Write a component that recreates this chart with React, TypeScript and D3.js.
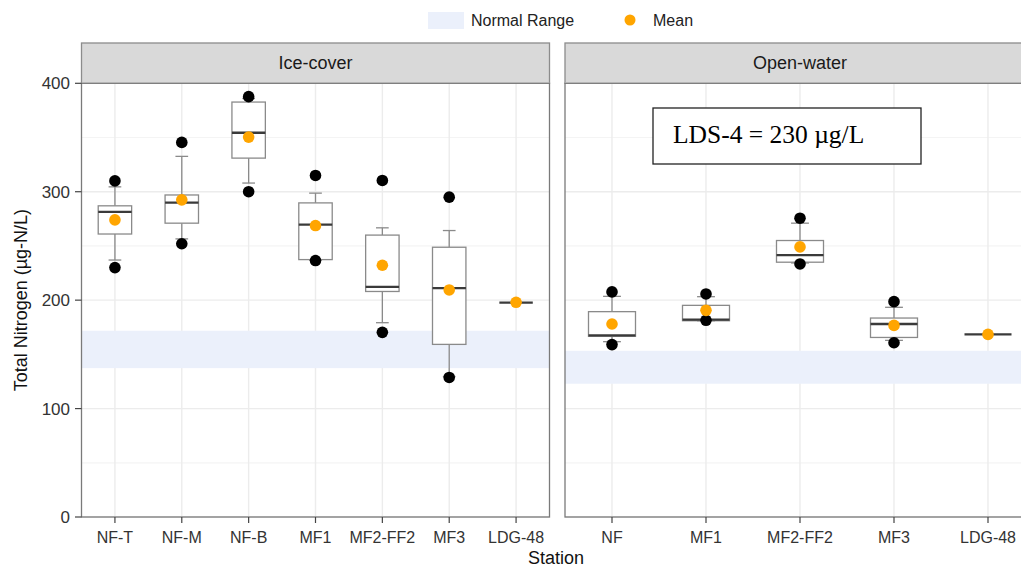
import React from "react";
import * as d3 from "d3";

const iceStations = ["NF-T", "NF-M", "NF-B", "MF1", "MF2-FF2", "MF3", "LDG-48"];
const iceLowWhisker = [237, 256.5, 308, 237, 179.2, 129.5, 197.7];
const iceQ1 = [261, 271, 331, 237.4, 208, 159.2, 197.7];
const iceMedian = [281.5, 290, 354.4, 269.7, 212.2, 211, 197.7];
const iceQ3 = [287, 297, 382.7, 289.7, 260, 248.8, 197.7];
const iceHighWhisker = [304.5, 332.6, 386, 298.7, 266.7, 264.2, 197.7];
const iceMin = [230, 252, 300, 236.5, 170.3, 128.7, null];
const iceMax = [310, 345.5, 387.7, 315, 310.4, 295, null];
const iceMean = [274, 292.5, 350.4, 268.8, 232.2, 209.4, 198];
const iceNormalRange = [137.3, 171.8];

const openStations = ["NF", "MF1", "MF2-FF2", "MF3", "LDG-48"];
const openLowWhisker = [161.7, 181, 234.3, 162.9, 168.4];
const openQ1 = [166.6, 181, 235, 165.6, 168.4];
const openMedian = [167.5, 182, 241.6, 178, 168.4];
const openQ3 = [189.4, 195.2, 255, 183.5, 168.4];
const openHighWhisker = [203.5, 203.2, 271, 193.4, 168.4];
const openMin = [159, 181.4, 233.4, 160.7, null];
const openMax = [207.6, 205.7, 275.6, 198.6, null];
const openMean = [178, 190.6, 249.1, 176.7, 168.4];
const openNormalRange = [122.9, 153.3];

const yTicks = [0, 100, 200, 300, 400];
const yMinor = [50, 150, 250, 350];
const panelTitles = ["Ice-cover", "Open-water"];
const lds4Label = "LDS-4 = 230 µg/L";

const W = 1021;
const H = 569;
const TOP = 83.3;
const BOTTOM = 517;
const STRIP_TOP = 43;
const FONT = "'Liberation Sans', Arial, Helvetica, sans-serif";
const BAND = "#ebf0fb";

type PanelProps = {
  stations: string[];
  lw: number[];
  q1: number[];
  med: number[];
  q3: number[];
  hw: number[];
  mn: (number | null)[];
  mx: (number | null)[];
  mean: number[];
  range: number[];
  x0: number;
  x1: number;
  title: string;
};

const y = d3.scaleLinear().domain([0, 400]).range([BOTTOM, TOP]);

function Panel(p: PanelProps) {
  const x = d3.scaleBand<string>().domain(p.stations).range([p.x0, p.x1]).paddingInner(0).paddingOuter(0);
  const step = x.step();
  const cx = (s: string) => (x(s) as number) + step / 2;
  const boxW = step * 0.5;
  const capW = step * 0.19;
  const whisk = "#8a8a8a";
  return (
    <g>
      <rect x={p.x0} y={STRIP_TOP} width={p.x1 - p.x0} height={TOP - STRIP_TOP} fill="#d9d9d9" stroke="#8c8c8c" strokeWidth={1.3} />
      <text x={(p.x0 + p.x1) / 2} y={(STRIP_TOP + TOP) / 2} dy="0.35em" textAnchor="middle" fontFamily={FONT} fontSize={18} fill="#1a1a1a">{p.title}</text>
      <rect x={p.x0} y={TOP} width={p.x1 - p.x0} height={BOTTOM - TOP} fill="#fff" />
      {yMinor.map((v) => (
        <line key={"mi" + v} x1={p.x0} x2={p.x1} y1={y(v)} y2={y(v)} stroke="#f4f4f4" strokeWidth={1.2} />
      ))}
      {yTicks.map((v) => (
        <line key={"ma" + v} x1={p.x0} x2={p.x1} y1={y(v)} y2={y(v)} stroke="#ececec" strokeWidth={1.4} />
      ))}
      {p.stations.map((s) => (
        <line key={"vg" + s} x1={cx(s)} x2={cx(s)} y1={TOP} y2={BOTTOM} stroke="#ececec" strokeWidth={1.4} />
      ))}
      <rect x={p.x0} y={y(p.range[1])} width={p.x1 - p.x0} height={y(p.range[0]) - y(p.range[1])} fill={BAND} />
      {p.stations.map((s, i) => {
        const c = cx(s);
        const single = p.q1[i] === p.q3[i];
        return (
          <g key={"b" + s}>
            {!single && (
              <g>
                <line x1={c} x2={c} y1={y(p.q3[i])} y2={y(p.hw[i])} stroke={whisk} strokeWidth={1.3} />
                <line x1={c} x2={c} y1={y(p.q1[i])} y2={y(p.lw[i])} stroke={whisk} strokeWidth={1.3} />
                <line x1={c - capW / 2} x2={c + capW / 2} y1={y(p.hw[i])} y2={y(p.hw[i])} stroke={whisk} strokeWidth={1.3} />
                <line x1={c - capW / 2} x2={c + capW / 2} y1={y(p.lw[i])} y2={y(p.lw[i])} stroke={whisk} strokeWidth={1.3} />
                <rect x={c - boxW / 2} y={y(p.q3[i])} width={boxW} height={y(p.q1[i]) - y(p.q3[i])} fill="#fff" stroke={whisk} strokeWidth={1.3} />
              </g>
            )}
            <line x1={c - boxW / 2} x2={c + boxW / 2} y1={y(p.med[i])} y2={y(p.med[i])} stroke="#3a3a3a" strokeWidth={2.3} />
            {p.mn[i] != null && <circle cx={c} cy={y(p.mn[i] as number)} r={5.8} fill="#000" />}
            {p.mx[i] != null && <circle cx={c} cy={y(p.mx[i] as number)} r={5.8} fill="#000" />}
            <circle cx={c} cy={y(p.mean[i])} r={5.8} fill="#FFA500" />
          </g>
        );
      })}
      <rect x={p.x0} y={TOP} width={p.x1 - p.x0} height={BOTTOM - TOP} fill="none" stroke="#7a7a7a" strokeWidth={1.3} />
      {p.stations.map((s) => (
        <g key={"t" + s}>
          <line x1={cx(s)} x2={cx(s)} y1={BOTTOM} y2={BOTTOM + 6} stroke="#444" strokeWidth={1.2} />
          <text x={cx(s)} y={BOTTOM + 26} textAnchor="middle" fontFamily={FONT} fontSize={16} fill="#333">{s}</text>
        </g>
      ))}
    </g>
  );
}

export default function App() {
  const leftX0 = 81.5;
  const leftX1 = 549.5;
  const rightX0 = 565;
  const rightX1 = 565 + 94 * openStations.length;
  return (
    <svg width={W} height={H} style={{ position: "absolute", left: 0, top: 0, background: "#fff" }}>
      <rect x={0} y={0} width={W} height={H} fill="#fff" />
      <rect x={428} y={12} width={36} height={17} fill={BAND} />
      <text x={471} y={26} fontFamily={FONT} fontSize={16} fill="#222">Normal Range</text>
      <circle cx={630} cy={20} r={5.5} fill="#FFA500" />
      <text x={653} y={26} fontFamily={FONT} fontSize={16} fill="#222">Mean</text>

      <Panel stations={iceStations} lw={iceLowWhisker} q1={iceQ1} med={iceMedian} q3={iceQ3} hw={iceHighWhisker}
        mn={iceMin} mx={iceMax} mean={iceMean} range={iceNormalRange} x0={leftX0} x1={leftX1} title={panelTitles[0]} />
      <Panel stations={openStations} lw={openLowWhisker} q1={openQ1} med={openMedian} q3={openQ3} hw={openHighWhisker}
        mn={openMin} mx={openMax} mean={openMean} range={openNormalRange} x0={rightX0} x1={rightX1} title={panelTitles[1]} />

      {yTicks.map((v) => (
        <g key={"yt" + v}>
          <line x1={75} x2={leftX0} y1={y(v)} y2={y(v)} stroke="#444" strokeWidth={1.2} />
          <text x={70} y={y(v)} dy="0.36em" textAnchor="end" fontFamily={FONT} fontSize={17} fill="#333">{v}</text>
        </g>
      ))}
      <text transform={`translate(27,${(TOP + BOTTOM) / 2}) rotate(-90)`} textAnchor="middle" fontFamily={FONT} fontSize={18} fill="#111">Total Nitrogen (µg-N/L)</text>
      <text x={556} y={564} textAnchor="middle" fontFamily={FONT} fontSize={18} fill="#111">Station</text>

      <rect x={653} y={108} width={268} height={56} fill="#fff" stroke="#222" strokeWidth={1.3} />
      <text x={673} y={143} fontFamily="'Liberation Serif', 'Times New Roman', serif" fontSize={25.5} fill="#000">{lds4Label}</text>
    </svg>
  );
}
